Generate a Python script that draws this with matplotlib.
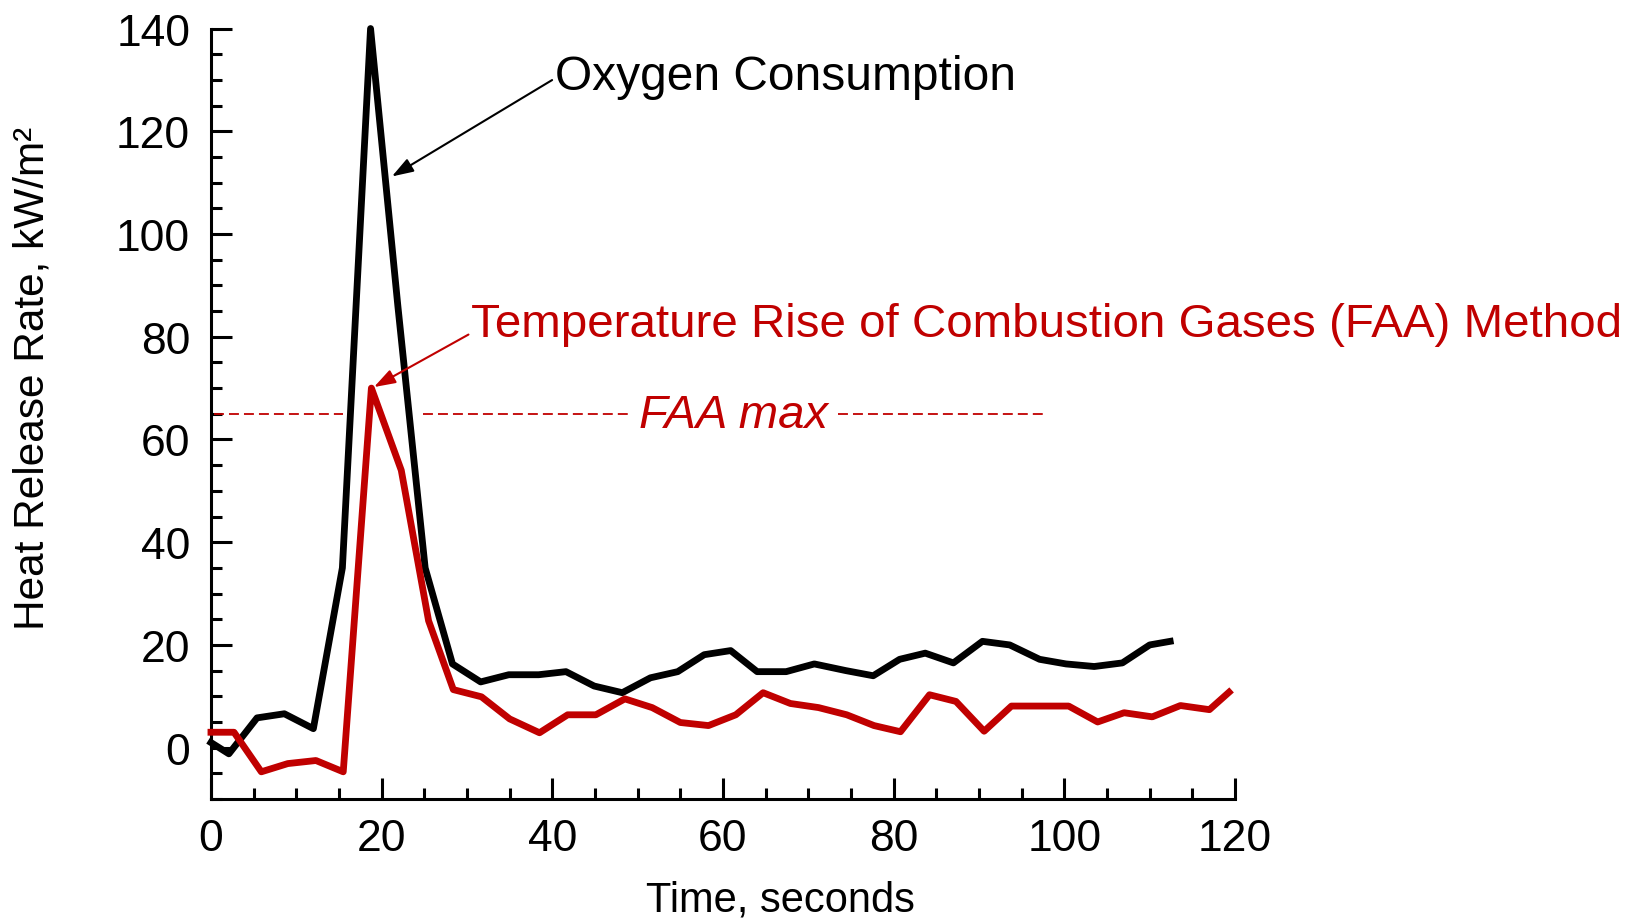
import matplotlib
matplotlib.use("Agg")
import matplotlib.pyplot as plt
from matplotlib.ticker import MultipleLocator

plt.rcParams['font.family'] = ['Liberation Sans', 'DejaVu Sans']

# ---- data ----
oxy_time = [0, 2.1, 5.4, 8.6, 12.0, 15.4, 18.7, 21.9, 25.1, 28.3, 31.6, 34.9, 38.4,
            41.6, 44.9, 48.2, 51.5, 54.7, 57.8, 60.9, 64.0, 67.4, 70.7, 74.4, 77.6,
            80.7, 83.7, 87.0, 90.4, 93.6, 97.1, 100.2, 103.5, 106.8, 110.0, 112.4]
oxy_hrr = [1.0, -1.2, 5.8, 6.6, 3.7, 35, 140, 86, 35, 16.3, 12.8, 14.2, 14.2,
           14.8, 12.0, 10.7, 13.6, 14.8, 18.1, 18.9, 14.8, 14.8, 16.3, 15.0, 14.0,
           17.2, 18.4, 16.5, 20.7, 20.0, 17.2, 16.3, 15.8, 16.5, 20.0, 20.7]

faa_time = [0, 2.7, 5.9, 9.0, 12.3, 15.5, 18.8, 22.3, 25.5, 28.4, 31.7, 35.0, 38.5,
            41.8, 45.1, 48.5, 51.7, 55.0, 58.3, 61.5, 64.7, 67.9, 71.2, 74.5, 77.7,
            80.8, 84.2, 87.3, 90.6, 93.8, 97.2, 100.5, 103.9, 107.0, 110.3, 113.6,
            117.0, 119.3]
faa_hrr = [3.0, 3.0, -4.7, -3.1, -2.5, -4.7, 70, 54, 24.7, 11.3, 9.9, 5.6, 2.9,
           6.4, 6.4, 9.5, 7.8, 4.9, 4.3, 6.4, 10.7, 8.6, 7.8, 6.4, 4.3,
           3.1, 10.3, 9.0, 3.2, 8.1, 8.1, 8.1, 5.0, 6.8, 6.0, 8.2, 7.4, 10.8]

faa_max = 65
faa_max_segments = [(0.4, 15.5), (24.8, 49.0), (73.5, 97.5)]

x_ticks = [0, 20, 40, 60, 80, 100, 120]
y_ticks = [0, 20, 40, 60, 80, 100, 120, 140]

RED = '#C00000'

fig = plt.figure(figsize=(16.52, 9.20), dpi=100)
ax = fig.add_axes([0.1277, 0.1304, 0.6199, 0.8375])

ax.plot(oxy_time, oxy_hrr, color='black', lw=4.9, solid_joinstyle='round', clip_on=False, zorder=3)
ax.plot(faa_time, faa_hrr, color=RED, lw=4.9, solid_joinstyle='round', clip_on=False, zorder=3)

for a, b in faa_max_segments:
    ax.plot([a, b], [faa_max, faa_max], color=RED, lw=1.3,
            linestyle=(0, (5.5, 2.8)), zorder=2)
ax.text(61.2, 62.5, 'FAA max', color=RED, fontsize=34, style='italic',
        ha='center', va='baseline')

arrow_style = '-|>,head_length=0.65,head_width=0.22'
ax.annotate('Oxygen Consumption', xy=(21.2, 111.2), xytext=(40.3, 128.3),
            fontsize=34.5, color='black', va='baseline', ha='left',
            arrowprops=dict(arrowstyle=arrow_style, mutation_scale=20,
                            color='black', lw=1.5, shrinkA=0, shrinkB=0,
                            relpos=(0, 0.45)))
ax.annotate('Temperature Rise of Combustion Gases (FAA) Method', xy=(19.1, 70.2),
            xytext=(30.5, 80.1), fontsize=34.2, color=RED, va='baseline', ha='left',
            annotation_clip=False,
            arrowprops=dict(arrowstyle=arrow_style, mutation_scale=20,
                            color=RED, lw=1.5, shrinkA=0, shrinkB=0,
                            relpos=(0, 0.3)))

ax.set_xlim(0, 120)
ax.set_ylim(-10, 140)
ax.set_xticks(x_ticks)
ax.set_yticks(y_ticks)
ax.xaxis.set_minor_locator(MultipleLocator(5))
ax.yaxis.set_minor_locator(MultipleLocator(5))

for s in ['top', 'right']:
    ax.spines[s].set_visible(False)
for s in ['left', 'bottom']:
    ax.spines[s].set_linewidth(2.2)

ax.tick_params(which='both', direction='in', width=2.2, labelsize=32)
ax.tick_params(which='major', length=15)
ax.tick_params(which='minor', length=8)
ax.tick_params(axis='x', pad=14)
ax.tick_params(axis='y', pad=15)

fig.text(33 / 1652, 1 - 378 / 920, 'Heat Release Rate, kW/m²', rotation=90,
         fontsize=30.5, ha='center', va='center')
fig.text(780 / 1652, 1 - 901 / 920, 'Time, seconds', fontsize=30,
         ha='center', va='center')

fig.savefig('out.png', dpi=100)
